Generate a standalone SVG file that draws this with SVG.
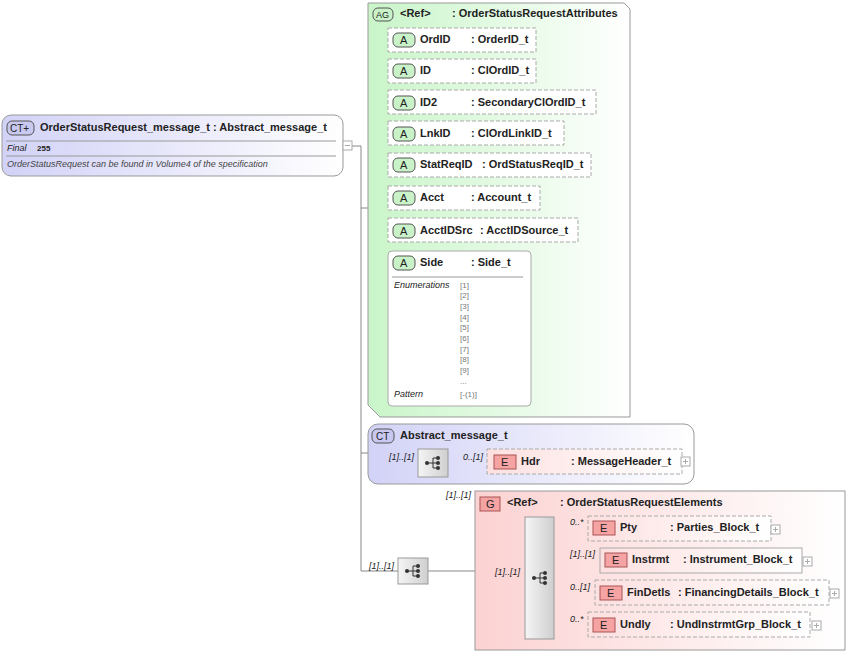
<svg xmlns="http://www.w3.org/2000/svg" width="850" height="656" viewBox="0 0 850 656">
<defs>
<linearGradient id="ag" x1="0" y1="0" x2="1" y2="0"><stop offset="0" stop-color="#c9f5c9"/><stop offset="1" stop-color="#ffffff"/></linearGradient>
<linearGradient id="ct" x1="0" y1="0" x2="1" y2="0"><stop offset="0" stop-color="#d2d2f7"/><stop offset="1" stop-color="#ffffff"/></linearGradient>
<linearGradient id="g" x1="0" y1="0" x2="1" y2="0"><stop offset="0" stop-color="#fcd2d2"/><stop offset="1" stop-color="#ffffff"/></linearGradient>
<linearGradient id="e" x1="0" y1="0" x2="1" y2="0"><stop offset="0" stop-color="#fde0e0"/><stop offset="1" stop-color="#ffffff"/></linearGradient>
<linearGradient id="seq" x1="0" y1="0" x2="1" y2="0"><stop offset="0" stop-color="#f5f5f5"/><stop offset="1" stop-color="#cfcfcf"/></linearGradient>
<g id="seqIcon"><circle cx="-6" cy="0" r="2" fill="#333"/><path d="M-6 0H0M0-5V5M0-5H5M0 0H5M0 5H5" stroke="#333" fill="none"/><circle cx="5" cy="-5" r="2" fill="#333"/><circle cx="5" cy="0" r="2" fill="#333"/><circle cx="5" cy="5" r="2" fill="#333"/></g>
<g id="plus"><rect x="0" y="0" width="9" height="9" fill="#fff" stroke="#aaa"/><path d="M2 4.5H7M4.5 2V7" stroke="#aaa"/></g>
</defs>
<style>
text{font-family:"Liberation Sans",Arial,sans-serif;font-size:11px;fill:#222}
.b{font-weight:bold}
.i{font-style:italic;font-size:9px}
.s{font-size:8px;fill:#777}
.ln{stroke:#888;fill:none}
.att{fill:#fff;stroke:#aaa;stroke-dasharray:4 2}
.attS{fill:#fff;stroke:#aaa}
.badgeA{fill:#c9f2c9;stroke:#555}
.badgeE{fill:#f5a3a3;stroke:#a55}
</style>
<g id="connectors" class="ln">
<path d="M352 146H361V571H398"/>
<path d="M361 208H368"/>
<path d="M361 453H418"/>
<path d="M448 463H488"/>
<path d="M428 571H525"/>
<path d="M378 40V327"/>
<path d="M378 40H390M378 71H390M378 103H390M378 134H390M378 165H390M378 198H390M378 231H390M378 327H388"/>
<path d="M554 528H588M554 560H600M554 593H595M554 625H588"/>
</g>
<g id="main">
<rect x="2" y="115" width="341" height="61" rx="9" fill="url(#ct)" stroke="#999"/>
<rect x="7" y="121" width="27" height="14" rx="5" fill="#c8c8f0" stroke="#555"/>
<text x="10" y="132" style="font-size:10px">CT+</text>
<text x="40" y="131" class="b">OrderStatusRequest_message_t : Abstract_message_t</text>
<path d="M6 141H336M6 156H336" stroke="#999"/>
<text x="7" y="151" class="i">Final</text><text x="37" y="151" style="font-size:8px" class="b">255</text>
<text x="7" y="167" class="i" style="fill:#444">OrderStatusRequest can be found in Volume4 of the specification</text>
<rect x="343" y="141" width="9" height="9" fill="#fff" stroke="#aaa"/><path d="M345 145.5H350" stroke="#aaa"/>
</g>
<g id="attrGroup">
<path d="M368 3H624L630 9V417H380L368 405Z" fill="url(#ag)" stroke="#999"/>
<rect x="373" y="8" width="20" height="13" rx="5" fill="#c9f2c9" stroke="#555"/><text x="376" y="18" style="font-size:9px">AG</text>
<text x="400" y="17" class="b">&lt;Ref&gt;</text><text x="452" y="17" class="b">: OrderStatusRequestAttributes</text>
</g>
<g id="attrs">
<g><rect x="388" y="28" width="148" height="24" class="att"/><rect x="393" y="33" width="22" height="14" rx="5" class="badgeA"/><text x="400" y="44">A</text><text x="420" y="43" class="b">OrdID</text><text x="471" y="43" class="b">: OrderID_t</text></g>
<g><rect x="388" y="59" width="148" height="24" class="att"/><rect x="393" y="64" width="22" height="14" rx="5" class="badgeA"/><text x="400" y="75">A</text><text x="420" y="74" class="b">ID</text><text x="471" y="74" class="b">: ClOrdID_t</text></g>
<g><rect x="388" y="90" width="208" height="24" class="att"/><rect x="393" y="96" width="22" height="14" rx="5" class="badgeA"/><text x="400" y="107">A</text><text x="420" y="106" class="b">ID2</text><text x="471" y="106" class="b">: SecondaryClOrdID_t</text></g>
<g><rect x="388" y="121" width="176" height="24" class="att"/><rect x="393" y="127" width="22" height="14" rx="5" class="badgeA"/><text x="400" y="138">A</text><text x="420" y="137" class="b">LnkID</text><text x="471" y="137" class="b">: ClOrdLinkID_t</text></g>
<g><rect x="388" y="153" width="203" height="24" class="att"/><rect x="393" y="158" width="22" height="14" rx="5" class="badgeA"/><text x="400" y="169">A</text><text x="420" y="168" class="b">StatReqID</text><text x="482" y="168" class="b">: OrdStatusReqID_t</text></g>
<g><rect x="388" y="186" width="152" height="24" class="att"/><rect x="393" y="191" width="22" height="14" rx="5" class="badgeA"/><text x="400" y="202">A</text><text x="420" y="201" class="b">Acct</text><text x="471" y="201" class="b">: Account_t</text></g>
<g><rect x="388" y="218" width="190" height="24" class="att"/><rect x="393" y="224" width="22" height="14" rx="5" class="badgeA"/><text x="400" y="235">A</text><text x="420" y="234" class="b">AcctIDSrc</text><text x="480" y="234" class="b">: AcctIDSource_t</text></g>
<g id="side"><rect x="388" y="251" width="143" height="155" rx="4" class="attS"/><rect x="393" y="256" width="22" height="14" rx="5" class="badgeA"/><text x="400" y="267">A</text><text x="420" y="266" class="b">Side</text><text x="471" y="266" class="b">: Side_t</text>
<path d="M392 277H523" stroke="#999"/>
<text x="394" y="288" class="i">Enumerations</text>
<text x="460" y="288" class="s">[1]</text><text x="460" y="298" class="s">[2]</text><text x="460" y="309" class="s">[3]</text><text x="460" y="320" class="s">[4]</text><text x="460" y="330" class="s">[5]</text><text x="460" y="341" class="s">[6]</text><text x="460" y="352" class="s">[7]</text><text x="460" y="362" class="s">[8]</text><text x="460" y="373" class="s">[9]</text><text x="460" y="384" class="s">...</text>
<text x="394" y="397" class="i">Pattern</text><text x="460" y="397" class="s">[-(1)]</text></g>
</g>
<g id="abstract">
<rect x="368" y="424" width="326" height="60" rx="10" fill="url(#ct)" stroke="#999"/>
<rect x="372" y="429" width="22" height="14" rx="5" fill="#c8c8f0" stroke="#555"/><text x="376" y="440" style="font-size:10px">CT</text>
<text x="400" y="439" class="b">Abstract_message_t</text>
<text x="389" y="460" class="i">[1]..[1]</text>
<rect x="418" y="449" width="30" height="28" fill="url(#seq)" stroke="#999"/><use href="#seqIcon" x="433" y="463"/>
<text x="463" y="460" class="i">0..[1]</text>
</g>
<g id="hdr"><rect x="487" y="449" width="195" height="25" fill="url(#e)" stroke="#aaa" stroke-dasharray="4 2"/><rect x="494" y="455" width="22" height="14" class="badgeE"/><text x="501" y="466">E</text><text x="521" y="465" class="b">Hdr</text><text x="571" y="465" class="b">: MessageHeader_t</text><use href="#plus" x="681" y="457"/></g>
<g id="seqOuter"><text x="369" y="569" class="i">[1]..[1]</text><rect x="398" y="558" width="30" height="26" fill="url(#seq)" stroke="#999"/><use href="#seqIcon" x="413" y="571"/></g>
<g id="elemGroup">
<rect x="475" y="491" width="370" height="159" fill="url(#g)" stroke="#999"/>
<text x="446" y="498" class="i">[1]..[1]</text>
<rect x="480" y="497" width="20" height="14" fill="#f5a3a3" stroke="#a55"/><text x="486" y="508">G</text>
<text x="507" y="506" class="b">&lt;Ref&gt;</text><text x="560" y="506" class="b">: OrderStatusRequestElements</text>
<text x="495" y="575" class="i">[1]..[1]</text>
<rect x="525" y="517" width="29" height="122" fill="url(#seq)" stroke="#999"/><use href="#seqIcon" x="540" y="578"/>
<text x="570" y="525" class="i">0..*</text>
<text x="570" y="557" class="i">[1]..[1]</text>
<text x="570" y="590" class="i">0..[1]</text>
<text x="570" y="622" class="i">0..*</text>
</g>
<g id="pty"><rect x="588" y="516" width="183" height="25" fill="url(#e)" stroke="#aaa" stroke-dasharray="4 2"/><rect x="593" y="521" width="22" height="14" class="badgeE"/><text x="600" y="532">E</text><text x="620" y="531" class="b">Pty</text><text x="670" y="531" class="b">: Parties_Block_t</text><use href="#plus" x="771" y="525"/></g>
<g id="instrmt"><rect x="600" y="548" width="202" height="25" fill="url(#e)" stroke="#aaa"/><rect x="605" y="553" width="22" height="14" class="badgeE"/><text x="612" y="564">E</text><text x="632" y="563" class="b">Instrmt</text><text x="683" y="563" class="b">: Instrument_Block_t</text><use href="#plus" x="803" y="557"/></g>
<g id="findetls"><rect x="595" y="580" width="234" height="25" fill="url(#e)" stroke="#aaa" stroke-dasharray="4 2"/><rect x="600" y="586" width="22" height="14" class="badgeE"/><text x="607" y="597">E</text><text x="627" y="596" class="b">FinDetls</text><text x="678" y="596" class="b">: FinancingDetails_Block_t</text><use href="#plus" x="830" y="589"/></g>
<g id="undly"><rect x="588" y="612" width="222" height="25" fill="url(#e)" stroke="#aaa" stroke-dasharray="4 2"/><rect x="593" y="618" width="22" height="14" class="badgeE"/><text x="600" y="629">E</text><text x="620" y="628" class="b">Undly</text><text x="670" y="628" class="b">: UndInstrmtGrp_Block_t</text><use href="#plus" x="812" y="621"/></g>
</svg>
